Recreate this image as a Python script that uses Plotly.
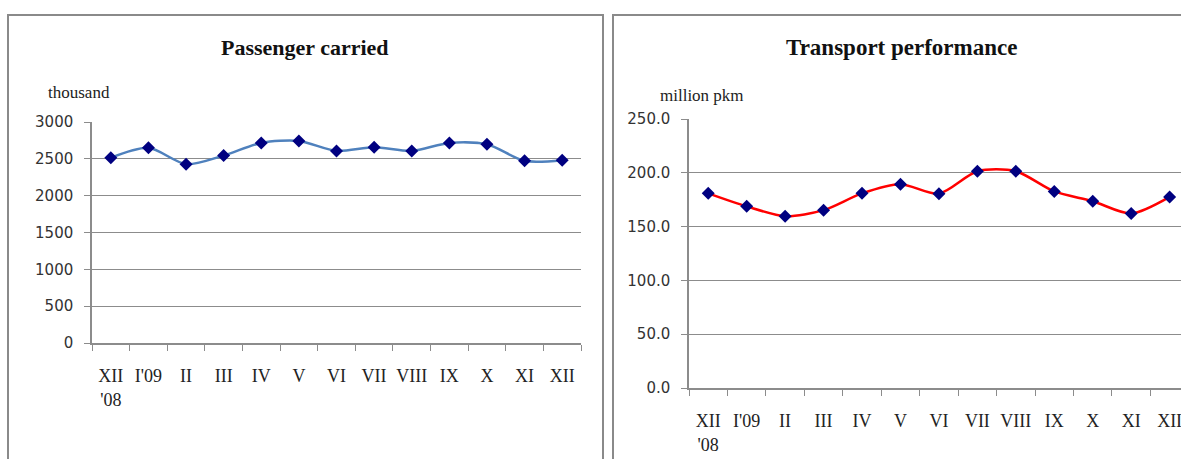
import plotly.graph_objects as go

months = ["XII<br>'08", "I'09", "II", "III", "IV", "V", "VI", "VII", "VIII", "IX", "X", "XI", "XII"]
passengers = [2514, 2649, 2428, 2545, 2716, 2743, 2608, 2658, 2608, 2716, 2698, 2473, 2482]
performance = [180.9, 168.8, 159.7, 165.3, 180.9, 189.4, 180.6, 201.4, 201.4, 182.7, 173.6, 162.2, 177.6]

W, H = 1181, 459
def px(x):
    return x / W
def py(y):
    return (H - y) / H

grid = "#8c8c8c"
navy = "#000080"

fig = go.Figure()
fig.add_trace(go.Scatter(
    x=months, y=passengers, mode="lines+markers", xaxis="x", yaxis="y",
    line=dict(color="#4F81BD", width=2.5, shape="spline", smoothing=0.8),
    marker=dict(symbol="diamond", size=10, color=navy),
))
fig.add_trace(go.Scatter(
    x=months, y=performance, mode="lines+markers", xaxis="x2", yaxis="y2",
    line=dict(color="#FF0000", width=2.5, shape="spline", smoothing=0.8),
    marker=dict(symbol="diamond", size=10, color=navy),
))

xfont = dict(family="Liberation Serif, Times New Roman, serif", size=18, color="#222")
yfont = dict(family="DejaVu Sans, Verdana, sans-serif", size=15, color="#333")

common_x = dict(type="category", showgrid=False, showline=True, linecolor=grid, linewidth=1.5,
                ticks="outside", ticklen=6, tickcolor=grid, tickson="boundaries",
                tickfont=xfont, ticklabelstandoff=16, tickangle=0, automargin=False,
                fixedrange=True)
common_y = dict(showgrid=True, gridcolor=grid, gridwidth=1.2, showline=True, linecolor=grid,
                linewidth=1.5, ticks="outside", ticklen=6, tickcolor=grid, tickfont=yfont,
                ticklabelstandoff=8, zeroline=False, automargin=False, fixedrange=True)

fig.update_layout(
    template="none",
    width=W, height=H, margin=dict(l=0, r=0, t=0, b=0, pad=0),
    paper_bgcolor="white", plot_bgcolor="white", showlegend=False,
    xaxis=dict(common_x, domain=[px(92), px(581)], anchor="y", range=[-0.5, 12.5]),
    yaxis=dict(common_y, domain=[py(343), py(122)], anchor="x", range=[0, 3000], dtick=500),
    xaxis2=dict(common_x, domain=[px(689), 1.0], anchor="y2", range=[-0.5, -0.5 + (W - 689) / 38.45]),
    yaxis2=dict(common_y, domain=[py(388), py(119)], anchor="x2", range=[0, 250], dtick=50,
                tickformat=".1f"),
    shapes=[
        dict(type="rect", xref="paper", yref="paper", x0=px(8), x1=px(603), y0=-0.2, y1=py(15),
             line=dict(color="#8a8a8a", width=2)),
        dict(type="rect", xref="paper", yref="paper", x0=px(613), x1=1.2, y0=-0.2, y1=py(15),
             line=dict(color="#8a8a8a", width=2)),
    ],
    annotations=[
        dict(text="<b>Passenger carried</b>", xref="paper", yref="paper", x=px(305), y=py(47),
             showarrow=False, xanchor="center", yanchor="middle",
             font=dict(family="Liberation Serif, Times New Roman, serif", size=22, color="#111")),
        dict(text="<b>Transport performance</b>", xref="paper", yref="paper", x=px(902), y=py(47),
             showarrow=False, xanchor="center", yanchor="middle",
             font=dict(family="Liberation Serif, Times New Roman, serif", size=23, color="#111")),
        dict(text="thousand", xref="paper", yref="paper", x=px(79), y=py(92),
             showarrow=False, xanchor="center", yanchor="middle",
             font=dict(family="Liberation Serif, Times New Roman, serif", size=17, color="#222")),
        dict(text="million pkm", xref="paper", yref="paper", x=px(702), y=py(95),
             showarrow=False, xanchor="center", yanchor="middle",
             font=dict(family="Liberation Serif, Times New Roman, serif", size=17, color="#222")),
    ],
)

fig.write_html("out.html", config={"displayModeBar": False},
               post_script="document.body.style.margin='0';document.body.style.overflow='hidden';")
